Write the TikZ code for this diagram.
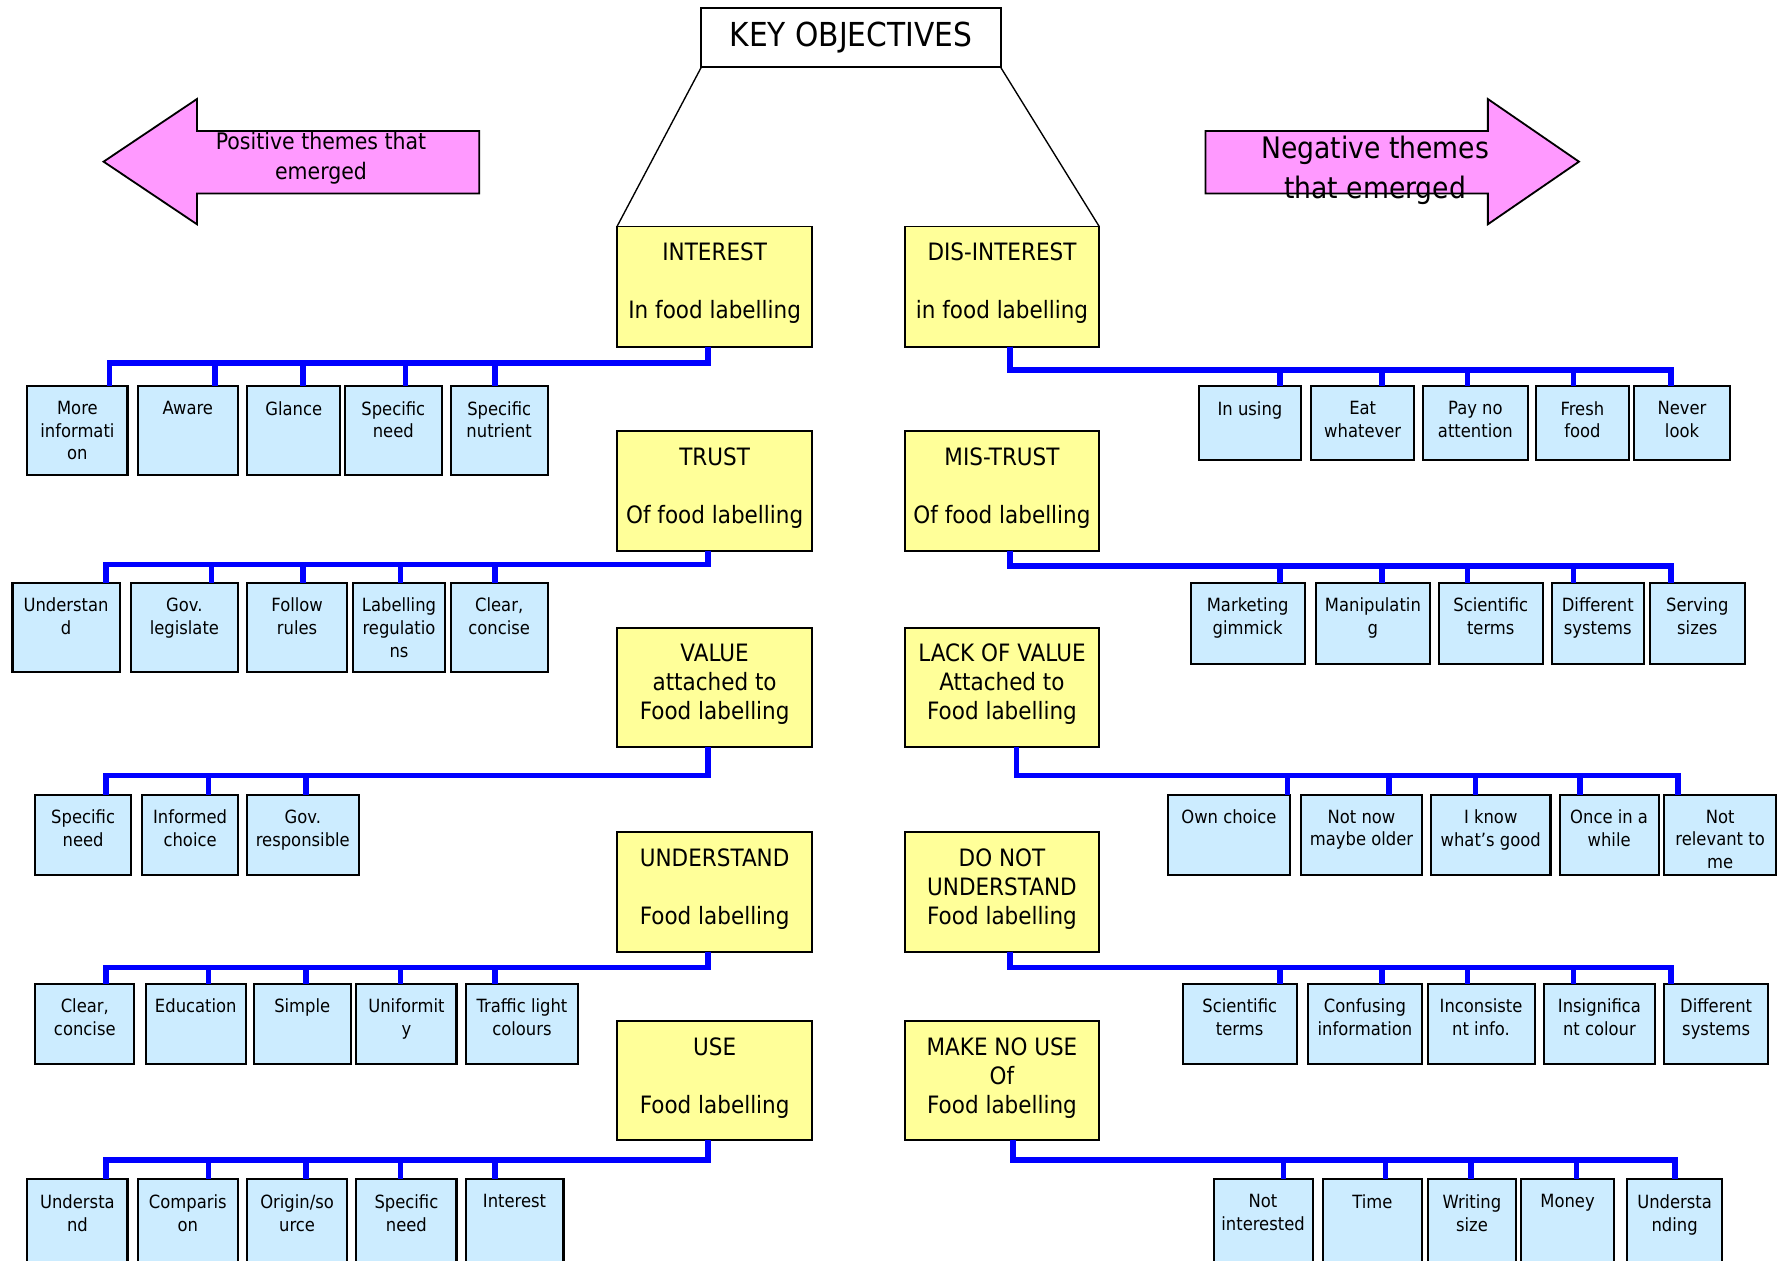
\documentclass[tikz,border=0pt]{standalone}
\usepackage{fontspec}
\setmainfont{DejaVu Sans}[FakeStretch=0.9]
\definecolor{yfill}{HTML}{FFFF99}
\definecolor{bfill}{HTML}{CCECFF}
\definecolor{pfill}{HTML}{FF99FF}
\definecolor{busblue}{HTML}{0000FF}
\newcommand\ybox[6]{%
  \node[ybx, minimum width={(#4-#2)*0.5pt}, minimum height={(#5-#3)*0.5pt}, anchor=north west] (#1) at (#2,#3) {};
  \node[ytxt, anchor=north] (#1-t) at ([yshift=-7pt]#1.north) {#6};}
\newcommand\bbox[6]{%
  \node[bbx, minimum width={(#4-#2)*0.5pt}, minimum height={(#5-#3)*0.5pt}, anchor=north west] (#1) at (#2,#3) {};
  \node[btxt, anchor=north] (#1-t) at ([yshift=-6.5pt]#1.north) {#6};}
\newcommand\busrow[4]{%
  \foreach \c/\dx in {#4}{\draw[bus] (#1.south -| #2,0) -- (#2,#3) -| (\c.north -| \dx,0);}}
\begin{document}
\begin{tikzpicture}[x=0.5pt,y=-0.5pt,
  ybx/.style={draw=black, line width=0.8pt, fill=yfill, inner sep=0pt, outer sep=0pt},
  ytxt/.style={inner sep=0pt, align=center, font=\fontsize{10.5}{12.75}\selectfont},
  bbx/.style={draw=black, line width=0.9pt, fill=bfill, inner sep=0pt, outer sep=0pt},
  btxt/.style={inner sep=0pt, align=center, font=\fontsize{8}{10}\selectfont},
  bus/.style={draw=busblue, line width=2.4pt, line join=miter},
  linkline/.style={draw=black, line width=0.6pt},
  bigarrow/.style={draw=black, line width=0.8pt, fill=pfill, line join=miter}]
\useasboundingbox (0,0) rectangle (1568,1107);
\clip (0,0) rectangle (1568,1107);

% title
\node[draw=black, line width=0.8pt, fill=white, inner sep=0pt, outer sep=0pt,
  minimum width={(879-616)*0.5pt}, minimum height={(58.6-6.4)*0.5pt},
  font=\fontsize{14.5}{17}\selectfont] (key) at (747.5,33) {KEY OBJECTIVES};

% theme arrows
\draw[bigarrow] (91,142) -- (173,87) -- (173,115) -- (421,115) -- (421,170) -- (173,170) -- (173,197) -- cycle;
\node[align=center, inner sep=0pt, font=\fontsize{10}{12.9}\selectfont] (postext) at (282,139) {Positive themes that\\emerged};
\draw[bigarrow] (1059,115) -- (1307,115) -- (1307,87) -- (1387,142) -- (1307,197) -- (1307,170) -- (1059,170) -- cycle;
\node[align=center, inner sep=0pt, font=\fontsize{13}{17.5}\selectfont] (negtext) at (1208,150) {Negative themes\\that emerged};

% yellow boxes, left
\ybox{interest}{542}{199}{713.5}{304.5}{INTEREST\\~\\In food labelling}
\ybox{trust}{542}{378.6}{713.5}{483.7}{TRUST\\~\\Of food labelling}
\ybox{value}{542}{551.4}{713.5}{656.5}{VALUE\\attached to\\Food labelling}
\ybox{understand}{542}{731}{713.5}{836}{UNDERSTAND\\~\\Food labelling}
\ybox{use}{542}{897}{713.5}{1001.7}{USE\\~\\Food labelling}
% yellow boxes, right
\ybox{disinterest}{794.7}{199}{965.6}{304.5}{DIS-INTEREST\\~\\in food labelling}
\ybox{mistrust}{794.7}{378.6}{965.6}{483.7}{MIS-TRUST\\~\\Of food labelling}
\ybox{lackvalue}{794.7}{551.4}{965.6}{656.5}{LACK OF VALUE\\Attached to\\Food labelling}
\ybox{donotund}{794.7}{731}{965.6}{836}{DO NOT\\UNDERSTAND\\Food labelling}
\ybox{makenouse}{794.7}{897}{965.6}{1001.7}{MAKE NO USE\\Of\\Food labelling}

\draw[linkline] (key.south west) -- (interest.north west);
\draw[linkline] (key.south east) -- (disinterest.north east);

% blue boxes, left
\bbox{a1}{24}{339}{112}{417}{More\\informati\\on}
\bbox{a2}{121}{339}{209}{417}{Aware}
\bbox{a3}{217}{339}{299}{417}{Glance}
\bbox{a4}{303}{339}{388}{417}{Specific\\need}
\bbox{a5}{396}{339}{481}{417}{Specific\\nutrient}

\bbox{b1}{11}{512}{105}{590}{Understan\\d}
\bbox{b2}{115}{512}{209}{590}{Gov.\\legislate}
\bbox{b3}{217}{512}{305}{590}{Follow\\rules}
\bbox{b4}{310}{512}{391}{590}{Labelling\\regulatio\\ns}
\bbox{b5}{396}{512}{481}{590}{Clear,\\concise}

\bbox{c1}{31}{698}{115}{769}{Specific\\need}
\bbox{c2}{125}{698}{209}{769}{Informed\\choice}
\bbox{c3}{217}{698}{315}{769}{Gov.\\responsible}

\bbox{d1}{31}{864}{118}{935}{Clear,\\concise}
\bbox{d2}{128}{864}{216}{935}{Education}
\bbox{d3}{223}{864}{308}{935}{Simple}
\bbox{d4}{313}{864}{401}{935}{Uniformit\\y}
\bbox{d5}{409}{864}{508}{935}{Traffic light\\colours}

\bbox{e1}{24}{1036}{112}{1120}{Understa\\nd}
\bbox{e2}{121}{1036}{209}{1120}{Comparis\\on}
\bbox{e3}{217}{1036}{305}{1120}{Origin/so\\urce}
\bbox{e4}{313}{1036}{401}{1120}{Specific\\need}
\bbox{e5}{409}{1036}{495}{1120}{Interest}

% blue boxes, right
\bbox{f1}{1053}{339}{1143}{404}{In using}
\bbox{f2}{1152}{339}{1242}{404}{Eat\\whatever}
\bbox{f3}{1250}{339}{1342}{404}{Pay no\\attention}
\bbox{f4}{1349}{339}{1431}{404}{Fresh\\food}
\bbox{f5}{1435}{339}{1520}{404}{Never\\look}

\bbox{g1}{1046}{512}{1146}{583}{Marketing\\gimmick}
\bbox{g2}{1156}{512}{1256}{583}{Manipulatin\\g}
\bbox{g3}{1264}{512}{1355}{583}{Scientific\\terms}
\bbox{g4}{1363}{512}{1444}{583}{Different\\systems}
\bbox{g5}{1449}{512}{1533}{583}{Serving\\sizes}

\bbox{h1}{1026}{698}{1133}{769}{Own choice}
\bbox{h2}{1143}{698}{1249}{769}{Not now\\maybe older}
\bbox{h3}{1257}{698}{1362}{769}{I know\\what’s good}
\bbox{h4}{1370}{698}{1457}{769}{Once in a\\while}
\bbox{h5}{1462}{698}{1560}{769}{Not\\relevant to\\me}

\bbox{i1}{1039}{864}{1139}{935}{Scientific\\terms}
\bbox{i2}{1149}{864}{1249}{935}{Confusing\\information}
\bbox{i3}{1254}{864}{1348}{935}{Inconsiste\\nt info.}
\bbox{i4}{1356}{864}{1454}{935}{Insignifica\\nt colour}
\bbox{i5}{1462}{864}{1553}{935}{Different\\systems}

\bbox{j1}{1066}{1036}{1153}{1120}{Not\\interested}
\bbox{j2}{1162}{1036}{1249}{1120}{Time}
\bbox{j3}{1254}{1036}{1332}{1120}{Writing\\size}
\bbox{j4}{1336}{1036}{1418}{1120}{Money}
\bbox{j5}{1429}{1036}{1513}{1120}{Understa\\nding}

% connectors
\busrow{interest}{622}{319}{a1/96,a2/189,a3/266,a4/356,a5/435}
\busrow{trust}{622}{496}{b1/93,b2/186,b3/266,b4/352,b5/435}
\busrow{value}{622}{681}{c1/93,c2/183,c3/269}
\busrow{understand}{622}{850}{d1/93,d2/183,d3/269,d4/352,d5/435}
\busrow{use}{622}{1019}{e1/93,e2/183,e3/269,e4/352,e5/435}

\busrow{disinterest}{887}{325}{f1/1124.5,f2/1214,f3/1289,f4/1382,f5/1468}
\busrow{mistrust}{887}{497}{g1/1124.5,g2/1214,g3/1289,g4/1382,g5/1468}
\busrow{lackvalue}{893}{681}{h1/1131,h2/1220,h3/1296,h4/1388,h5/1474}
\busrow{donotund}{887}{850}{i1/1124.5,i2/1214,i3/1289,i4/1382,i5/1468}
\busrow{makenouse}{890}{1019}{j1/1127.5,j2/1217,j3/1292,j4/1385,j5/1471.5}
\end{tikzpicture}
\end{document}
